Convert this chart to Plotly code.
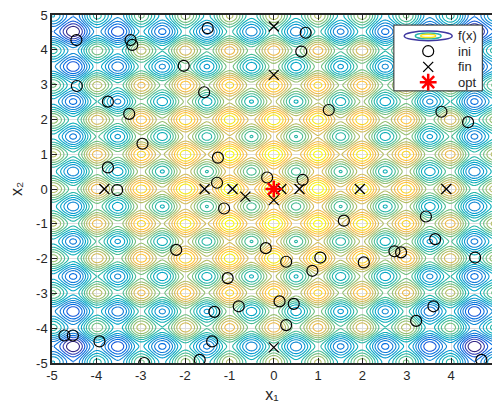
import numpy as np
import plotly.graph_objects as go

# Initial points (ini)
ini_x = [-4.45, -3.23, -3.19, -1.49, 0.72, 0.62, -2.03, -4.44, -3.74, -3.26,
         -1.57, 1.24, 3.78, 4.38, -2.96, -1.26, -3.74, -3.53, -1.28, -0.15,
         0.65, -1.12, -0.18, 1.58, 3.43, 3.64, 2.72, 2.87, -2.20, -1.04,
         -0.79, -1.34, -1.39, -1.67, -2.92, -3.93, -4.53, -4.72, 0.28, 1.05,
         0.87, 2.03, 4.54, 0.13, 0.45, 0.28, 3.60, 3.21, 4.68]
ini_y = [4.28, 4.28, 4.14, 4.62, 4.49, 3.95, 3.54, 2.96, 2.51, 2.16,
         2.78, 2.27, 2.22, 1.92, 1.30, 0.90, 0.62, -0.03, 0.18, 0.33,
         0.26, -0.56, -1.70, -0.91, -0.79, -1.44, -1.79, -1.82, -1.75, -2.56,
         -3.37, -3.53, -4.38, -4.91, -5.00, -4.38, -4.21, -4.21, -2.09, -1.97,
         -2.35, -2.11, -1.97, -3.23, -3.30, -3.91, -3.37, -3.79, -4.91]

# Final points (fin)
fin_x = [0.0, 0.0, -3.82, -1.56, -0.93, -0.64, 0.0, 0.17, 0.58, 1.94, 3.89, 0.0, 0.0]
fin_y = [4.67, 3.28, 0.0, 0.0, 0.0, -0.22, -0.32, 0.0, 0.0, 0.0, 0.0, -4.55, 0.0]

# Optimum (opt)
opt_x = [0.0]
opt_y = [0.0]

# Axis ticks
tick_vals = [-5, -4, -3, -2, -1, 0, 1, 2, 3, 4, 5]
tick_text = ["-5", "-4", "-3", "-2", "-1", "0", "1", "2", "3", "4", "5"]

# Number of contour levels of f(x)
n_levels = 20

# Objective surface: negated Rastrigin function on [-5, 5]^2
grid = np.linspace(-5, 5, 401)
GX, GY = np.meshgrid(grid, grid)
FZ = -(20 + GX**2 - 10 * np.cos(2 * np.pi * GX) + GY**2 - 10 * np.cos(2 * np.pi * GY))
z_lo, z_hi = float(FZ.min()), float(FZ.max())
level_step = (z_hi - z_lo) / (n_levels + 1)

parula = [
    [0.2081, 0.1663, 0.5292], [0.2123, 0.2138, 0.6270], [0.1959, 0.2645, 0.7279],
    [0.1253, 0.3242, 0.8303], [0.0117, 0.3875, 0.8820], [0.0165, 0.4266, 0.8786],
    [0.0498, 0.4586, 0.8641], [0.0723, 0.4887, 0.8467], [0.0793, 0.5200, 0.8312],
    [0.0641, 0.5570, 0.8240], [0.0343, 0.5966, 0.8199], [0.0239, 0.6287, 0.8038],
    [0.0228, 0.6535, 0.7768], [0.0384, 0.6743, 0.7436], [0.0843, 0.6928, 0.7062],
    [0.1453, 0.7098, 0.6646], [0.2178, 0.7250, 0.6193], [0.3022, 0.7376, 0.5712],
    [0.3953, 0.7459, 0.5244], [0.4871, 0.7491, 0.4840], [0.5709, 0.7485, 0.4494],
    [0.6473, 0.7456, 0.4188], [0.7184, 0.7411, 0.3905], [0.7858, 0.7356, 0.3633],
    [0.8507, 0.7299, 0.3360], [0.9139, 0.7258, 0.3063], [0.9739, 0.7314, 0.2666],
    [0.9990, 0.7653, 0.2164], [0.9880, 0.8066, 0.1794], [0.9697, 0.8481, 0.1475],
    [0.9589, 0.8949, 0.1132], [0.9661, 0.9514, 0.0755], [0.9763, 0.9831, 0.0538],
]
n = len(parula)
colorscale = [[i / (n - 1), "rgb(%d,%d,%d)" % tuple(int(round(c * 255)) for c in rgb)]
              for i, rgb in enumerate(parula)]

FONT = "Liberation Sans, Arial, Helvetica, sans-serif"
INK = "#262626"

fig = go.Figure()

fig.add_trace(go.Contour(
    x=grid, y=grid, z=FZ,
    colorscale=colorscale,
    zmin=z_lo, zmax=z_hi,
    showscale=False,
    autocontour=False,
    contours=dict(coloring="lines", start=z_lo + level_step,
                  end=z_hi - level_step * 0.5, size=level_step),
    line=dict(width=1.1),
    hoverinfo="skip",
))

fig.add_trace(go.Scatter(
    x=ini_x, y=ini_y, mode="markers", name="ini",
    marker=dict(symbol="circle-open", size=11, color="black", line=dict(width=1.2)),
))
fig.add_trace(go.Scatter(
    x=fin_x, y=fin_y, mode="markers", name="fin",
    marker=dict(symbol="x-thin-open", size=10, color="black", line=dict(width=1.3)),
))
fig.add_trace(go.Scatter(
    x=opt_x, y=opt_y, mode="markers", name="opt",
    marker=dict(symbol="asterisk-open", size=14, color="red", line=dict(width=2.5, color="red")),
))

# Legend box, drawn on an overlay axis in [0, 1] paper units
L, R, B, T = 0.777, 0.978, 0.782, 0.971
fig.add_trace(go.Scatter(
    x=[L, R, R, L, L], y=[B, B, T, T, B], xaxis="x2", yaxis="y2",
    mode="lines", fill="toself", fillcolor="white",
    line=dict(color=INK, width=1), hoverinfo="skip",
))
icon_x = 0.855
row_y = [0.940, 0.896, 0.851, 0.807]
fig.add_trace(go.Scatter(
    x=[icon_x], y=[row_y[1]], xaxis="x2", yaxis="y2", mode="markers",
    marker=dict(symbol="circle-open", size=11, color="black", line=dict(width=1.2)),
    hoverinfo="skip",
))
fig.add_trace(go.Scatter(
    x=[icon_x], y=[row_y[2]], xaxis="x2", yaxis="y2", mode="markers",
    marker=dict(symbol="x-thin-open", size=10, color="black", line=dict(width=1.3)),
    hoverinfo="skip",
))
fig.add_trace(go.Scatter(
    x=[icon_x], y=[row_y[3]], xaxis="x2", yaxis="y2", mode="markers",
    marker=dict(symbol="asterisk-open", size=14, color="red", line=dict(width=2.5, color="red")),
    hoverinfo="skip",
))

# f(x) legend icon: nested contour ellipses (full width, full height in paper units)
ellipses = [(0.109, 0.028, "rgb(62,56,160)"),
            (0.059, 0.017, "rgb(40,180,170)"),
            (0.034, 0.009, "rgb(250,225,20)")]
for w, h, col in ellipses:
    fig.add_shape(type="circle", xref="paper", yref="paper",
                  x0=icon_x - w / 2, x1=icon_x + w / 2,
                  y0=row_y[0] - h / 2, y1=row_y[0] + h / 2,
                  line=dict(color=col, width=1.5), layer="above")

labels = ["f(x)", "ini", "fin", "opt"]
for txt, yy in zip(labels, row_y):
    fig.add_annotation(x=0.918, y=yy, xref="paper", yref="paper", text=txt,
                       showarrow=False, xanchor="left", yanchor="middle",
                       font=dict(family=FONT, size=13, color=INK))

axis_common = dict(
    tickvals=tick_vals, ticktext=tick_text,
    ticks="inside", ticklen=5, tickwidth=1, tickcolor=INK,
    showline=True, linecolor=INK, linewidth=1.5,
    showgrid=True, gridcolor="#dedede", gridwidth=1,
    zeroline=False,
    tickfont=dict(family=FONT, size=13, color=INK),
)

fig.update_layout(
    width=492, height=407,
    margin=dict(l=52, r=0, t=15, b=44, autoexpand=False),
    paper_bgcolor="white", plot_bgcolor="white",
    showlegend=False,
    font=dict(family=FONT, size=13, color=INK),
    xaxis=dict(range=[-5, 4.92], mirror="allticks",
               title=dict(text="x\u2081", standoff=6,
                          font=dict(family=FONT, size=16, color=INK)),
               **axis_common),
    yaxis=dict(range=[-5, 5], mirror=False,
               title=dict(text="x\u2082", standoff=9,
                          font=dict(family=FONT, size=16, color=INK)),
               **axis_common),
    xaxis2=dict(range=[0, 1], overlaying="x", visible=False, fixedrange=True),
    yaxis2=dict(range=[0, 1], overlaying="y", visible=False, fixedrange=True),
)

fig.write_html("out.html")
